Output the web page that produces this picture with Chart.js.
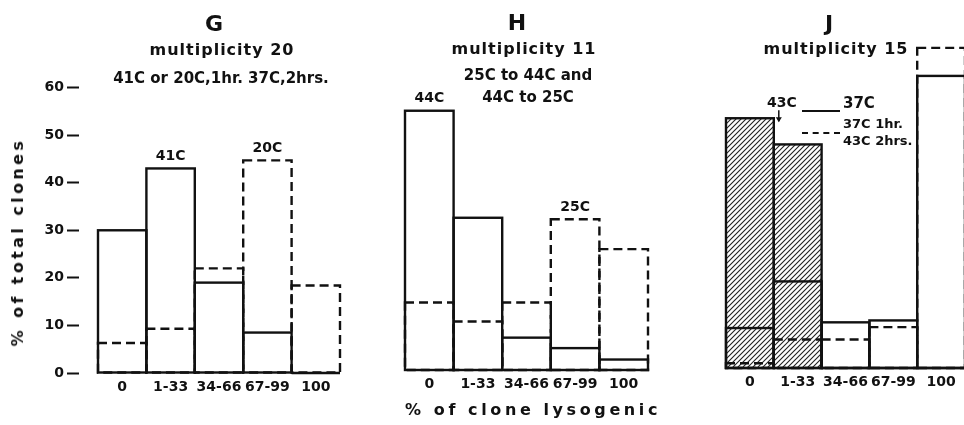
<!DOCTYPE html>
<html>
<head>
<meta charset="utf-8">
<script src="https://cdn.jsdelivr.net/npm/chart.js@4/dist/chart.umd.min.js"></script>
<style>
  html, body { margin: 0; padding: 0; background: #fff; }
  body {
    width: 964px; height: 425px; position: relative; overflow: hidden;
    font-family: "DejaVu Sans", sans-serif; font-weight: bold; color: #111;
  }
  canvas { position: absolute; top: 0; }
  .t { position: absolute; white-space: nowrap; line-height: 1; transform: translate(-50%, -50%); }
  .l { position: absolute; white-space: nowrap; line-height: 1; transform: translate(0, -50%); }
  .big { font-size: 22px; }
  .sub { font-size: 16px; letter-spacing: 1px; }
  .cond { font-size: 15px; }
  .key { position: absolute; width: 38px; height: 0; border-top: 2px solid #111; }
  .key.dash { border-top-style: dashed; }
</style>
</head>
<body>
<canvas id="g" width="345" height="425" style="left:0"></canvas>
<canvas id="h" width="305" height="425" style="left:350px"></canvas>
<canvas id="j" width="310" height="425" style="left:660px"></canvas>

<div class="t big" style="left:214px;top:24px">G</div>
<div class="t sub" style="left:222px;top:50px">multiplicity 20</div>
<div class="t cond" style="left:221px;top:78px">41C or 20C,1hr. 37C,2hrs.</div>

<div class="t big" style="left:517px;top:23px">H</div>
<div class="t sub" style="left:524px;top:49px">multiplicity 11</div>
<div class="t cond" style="left:528px;top:75px">25C to 44C and</div>
<div class="t cond" style="left:528px;top:97px">44C to 25C</div>

<div class="t big" style="left:829px;top:24px">J</div>
<div class="t sub" style="left:836px;top:49px">multiplicity 15</div>

<div class="key" style="left:802px;top:110px"></div>
<div class="l cond" style="left:843px;top:103px">37C</div>
<div class="key dash" style="left:802px;top:132px"></div>
<div class="l" style="left:843px;top:123px;font-size:13px">37C 1hr.</div>
<div class="l" style="left:843px;top:140px;font-size:13px">43C 2hrs.</div>

<div class="t" style="left:18px;top:242px;font-size:16px;letter-spacing:3.4px;transform:translate(-50%,-50%) rotate(-90deg)">% of total clones</div>
<div class="t" style="left:533px;top:410px;font-size:16px;letter-spacing:3.6px">% of clone lysogenic</div>

<script>
const ink = '#111'

// % of clone lysogenic (x categories)
const bins = ['0', '1-33', '34-66', '67-99', '100']

// G, multiplicity 20
const g41C = [30, 43, 19, 8.5, 0]
const g20C = [6.3, 9.3, 22, 44.7, 18.4]

// H, multiplicity 11
const h44C = [54.5, 32, 6.8, 4.6, 2.2]
const h25C = [14.2, 10.2, 14.2, 31.7, 25.4]

// J, multiplicity 15
const j43C = [52.5, 47, 0, 0, 0]
const j37C = [8.4, 18.2, 9.6, 10, 61.4]
const j37C1hr43C2hrs = [1, 6, 6, 8.6, 67.3]

const yMax = 70
const yTickTop = 60

function hatch() {
  const c = document.createElement('canvas')
  c.width = 5
  c.height = 5
  const x = c.getContext('2d')
  x.strokeStyle = '#222'
  x.lineWidth = 1.1
  x.beginPath()
  x.moveTo(0, 5); x.lineTo(5, 0)
  x.moveTo(-1, 1); x.lineTo(1, -1)
  x.moveTo(4, 6); x.lineTo(6, 4)
  x.stroke()
  return x.createPattern(c, 'repeat')
}

// bars are drawn by Chart.js (fill only), outlines stroked here so that dashes work
const outlinePlugin = {
  id: 'outline',
  afterDatasetsDraw(chart, args, opts) {
    const ctx = chart.ctx
    chart.data.datasets.forEach((ds, i) => {
      const meta = chart.getDatasetMeta(i)
      ctx.save()
      ctx.strokeStyle = ink
      ctx.lineWidth = 2.4
      ctx.setLineDash(ds.lineDash || [])
      for (const bar of meta.data) {
        const p = bar.getProps(['x', 'y', 'base', 'width'], true)
        ctx.strokeRect(p.x - p.width / 2, p.y, p.width, p.base - p.y)
      }
      ctx.restore()
    })

    ctx.save()
    ctx.fillStyle = ink
    ctx.strokeStyle = ink
    ctx.font = 'bold 14px "DejaVu Sans"'
    ctx.textBaseline = 'middle'
    ctx.textAlign = 'center'
    for (const n of (opts.notes || [])) {
      const bar = chart.getDatasetMeta(n.ds).data[n.idx]
      const p = bar.getProps(['x', 'y', 'width'], true)
      if (n.arrow) {
        const ax = p.x + p.width / 2 + 5
        ctx.fillText(n.text, ax + 3, p.y - 15)
        ctx.lineWidth = 1.5
        ctx.beginPath()
        ctx.moveTo(ax, p.y - 8)
        ctx.lineTo(ax, p.y + 3)
        ctx.stroke()
        ctx.beginPath()
        ctx.moveTo(ax - 3, p.y - 1)
        ctx.lineTo(ax + 3, p.y - 1)
        ctx.lineTo(ax, p.y + 4)
        ctx.closePath()
        ctx.fill()
      } else {
        ctx.fillText(n.text, p.x, p.y - 12)
      }
    }
    ctx.restore()
  }
}

function panel(id, datasets, o) {
  const yAxis = o.showY ? {
    min: 0,
    max: yMax,
    afterBuildTicks: s => { s.ticks = s.ticks.filter(t => t.value <= yTickTop) },
    afterFit: s => { s.width = o.yWidth },
    ticks: { stepSize: 10, padding: 3, color: ink, font: { family: 'DejaVu Sans', size: 14, weight: 'bold' } },
    grid: { drawOnChartArea: false, drawTicks: true, tickLength: 31, tickColor: ink, tickWidth: 2, tickBorderDash: [12, 40] },
    border: { display: false },
  } : { display: false, min: 0, max: yMax }

  return new Chart(document.getElementById(id), {
    type: 'bar',
    data: { labels: bins, datasets: datasets },
    options: {
      responsive: false,
      animation: false,
      devicePixelRatio: 1,
      layout: { padding: o.padding },
      datasets: { bar: { grouped: false, barPercentage: 1, categoryPercentage: 1, borderWidth: 0 } },
      scales: {
        x: {
          afterFit: s => { s.height = o.xHeight },
          grid: { display: false },
          border: { display: false },
          ticks: { padding: -2, maxRotation: 0, autoSkip: false, color: ink, font: { family: 'DejaVu Sans', size: 14, weight: 'bold' } },
        },
        y: yAxis,
      },
      plugins: {
        legend: { display: false },
        tooltip: { enabled: false },
        outline: { notes: o.notes },
      },
    },
    plugins: [outlinePlugin],
  })
}

const clear = 'rgba(0,0,0,0)'

panel('g', [
  { label: '41C', data: g41C, backgroundColor: clear },
  { label: '20C', data: g20C, backgroundColor: clear, lineDash: [9, 5] },
], {
  showY: true, yWidth: 98, xHeight: 52,
  padding: { top: 40, left: 0, right: 5, bottom: 0 },
  notes: [{ ds: 0, idx: 1, text: '41C' }, { ds: 1, idx: 3, text: '20C' }],
})

panel('h', [
  { label: '44C', data: h44C, backgroundColor: clear },
  { label: '25C', data: h25C, backgroundColor: clear, lineDash: [9, 5] },
], {
  showY: false, xHeight: 55,
  padding: { top: 37, left: 55, right: 7, bottom: 0 },
  notes: [{ ds: 0, idx: 0, text: '44C' }, { ds: 1, idx: 3, text: '25C' }],
})

panel('j', [
  { label: '43C', data: j43C, backgroundColor: hatch() },
  { label: '37C', data: j37C, backgroundColor: clear },
  { label: '37C 1hr. 43C 2hrs.', data: j37C1hr43C2hrs, backgroundColor: clear, lineDash: [9, 5] },
], {
  showY: false, xHeight: 57,
  padding: { top: 35, left: 66, right: 5, bottom: 0 },
  notes: [{ ds: 0, idx: 0, text: '43C', arrow: true }],
})
</script>
</body>
</html>
